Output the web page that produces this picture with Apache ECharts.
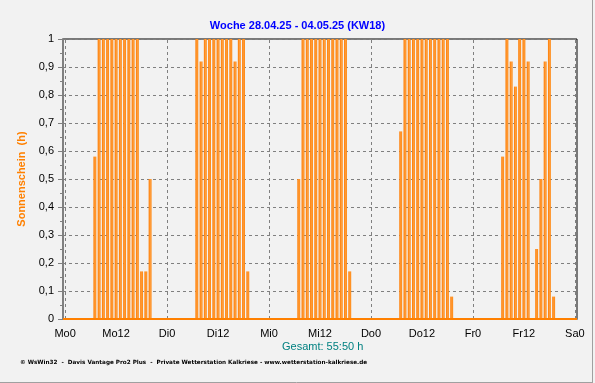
<!DOCTYPE html>
<html>
<head>
<meta charset="utf-8">
<script src="https://cdn.jsdelivr.net/npm/echarts@6/dist/echarts.min.js"></script>
<style>
html,body{margin:0;padding:0;background:#F2F2F2;}
#c{width:595px;height:383px;}
</style>
</head>
<body>
<div id="c"></div>
<script>
// Hourly sunshine (h) per day, hours 0..23
const monday    = [0,0,0,0,0,0,0,0.58,1,1,1,1,1,1,1,1,1,1,0.17,0.17,0.5,0,0,0];
const tuesday   = [0,0,0,0,0,0,0,1,0.92,1,1,1,1,1,1,1,0.92,1,1,0.17,0,0,0,0];
const wednesday = [0,0,0,0,0,0,0,0.5,1,1,1,1,1,1,1,1,1,1,1,0.17,0,0,0,0];
const thursday  = [0,0,0,0,0,0,0,0.67,1,1,1,1,1,1,1,1,1,1,1,0.08,0,0,0,0];
const friday    = [0,0,0,0,0,0,0,0.58,1,0.92,0.83,1,1,0.92,0,0.25,0.5,0.92,1,0.08,0,0,0,0];
const saturday0 = [0];
const tickLabels = ['Mo0','Mo12','Di0','Di12','Mi0','Mi12','Do0','Do12','Fr0','Fr12','Sa0'];
const dayStarts = [0,24,48,72,96,120];
const titleText = 'Woche 28.04.25 - 04.05.25 (KW18)';
const totalText = 'Gesamt: 55:50 h';
const footerText = '\u00a9 WsWin32  -  Davis Vantage Pro2 Plus  -  Private Wetterstation Kalkriese - www.wetterstation-kalkriese.de';

const values = [].concat(monday, tuesday, wednesday, thursday, friday, saturday0);
const hours = values.map((v,i)=>String(i));

const chart = echarts.init(document.getElementById('c'), null, {renderer:'canvas'});
const barColor = new echarts.graphic.LinearGradient(0,0,1,0,[
  {offset:0,color:'#FF7C00'},{offset:0.6,color:'#FF9E3D'},{offset:1,color:'#FF8000'}
]);
const option = {
  backgroundColor:'#F2F2F2',
  animation:false,
  grid:{left:63,top:39,width:514,height:280,show:true,borderColor:'#000',borderWidth:1,backgroundColor:'#F2F2F2'},
  xAxis:{
    type:'category',
    data:hours,
    boundaryGap:true,
    offset:1,
    axisLine:{lineStyle:{color:'#808080',width:2}},
    axisTick:{alignWithLabel:true,interval:2,length:4,lineStyle:{color:'#808080',width:1}},
    axisLabel:{
      interval:11,margin:8,
      fontFamily:'Liberation Sans, Arial, sans-serif',fontSize:11,color:'#000',
      formatter:(v,i)=>tickLabels[Math.round(i/12)]
    },
    splitLine:{show:false}
  },
  yAxis:{
    type:'value',min:0,max:1,interval:0.1,
    name:'Sonnenschein  (h)',
    nameLocation:'middle',nameGap:33,nameRotate:90,
    nameTextStyle:{color:'#FF8000',fontWeight:'bold',fontSize:11,fontFamily:'Liberation Sans, Arial, sans-serif'},
    axisLine:{show:true,lineStyle:{color:'#808080',width:2}},
    axisTick:{show:true,length:5,lineStyle:{color:'#808080'}},
    minorTick:{show:true,splitNumber:2,length:3,lineStyle:{color:'#808080'}},
    axisLabel:{
      margin:9,fontFamily:'Liberation Sans, Arial, sans-serif',fontSize:11,color:'#000',
      formatter:v=>String(Math.round(v*10)/10).replace('.',',')
    },
    splitLine:{show:true,lineStyle:{color:'#808080',type:[3,3],width:1}}
  },
  series:[{
    type:'bar',
    data:values,
    barWidth:2.9,
    itemStyle:{color:barColor},
    markLine:{
      silent:true,symbol:'none',label:{show:false},
      data:[
        ...dayStarts.map(d=>({xAxis:d,lineStyle:{color:'#808080',type:[3,3],width:1}})),
        {yAxis:0,lineStyle:{color:'#FF8000',type:'solid',width:2}}
      ]
    }
  }],
  graphic:[
    {type:'text',left:'center',top:20,style:{text:titleText,fill:'#0000FF',font:'bold 11px "Liberation Sans", Arial, sans-serif'}},
    {type:'text',left:282,top:341,style:{text:totalText,fill:'#008080',font:'11px "Liberation Sans", Arial, sans-serif'}},
    {type:'text',left:20,top:360,style:{text:footerText,fill:'#000',font:'bold 5.7px "DejaVu Sans", sans-serif'}},
    {type:'line',shape:{x1:592.5,y1:0,x2:592.5,y2:382.5},style:{stroke:'#A0A0A0',lineWidth:1}},
    {type:'line',shape:{x1:0,y1:382.5,x2:593,y2:382.5},style:{stroke:'#A0A0A0',lineWidth:1}}
  ]
};
chart.setOption(option);
</script>
</body>
</html>
